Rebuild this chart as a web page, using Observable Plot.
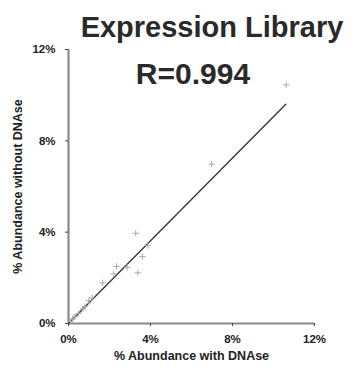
<!DOCTYPE html>
<html>
<head>
<meta charset="utf-8">
<script src="https://cdn.jsdelivr.net/npm/d3@7"></script>
<script src="https://cdn.jsdelivr.net/npm/@observablehq/plot@0.6"></script>
<style>
  html, body { margin: 0; padding: 0; background: #fff; }
  #wrap { position: relative; width: 354px; height: 370px; font-family: "Liberation Sans", Arial, sans-serif; }
  .ttl { position: absolute; font-weight: bold; color: #2a2a2a; white-space: nowrap; transform: translateX(-50%); line-height: 1; }
</style>
</head>
<body>
<div id="wrap">
  <div class="ttl" id="t1" style="left:212px; top:13px; font-size:29px;">Expression Library</div>
  <div class="ttl" id="t2" style="left:193px; top:59px; font-size:30px;">R=0.994</div>
</div>
<script>
const withDNAse    = [0.1, 0.2, 0.3, 0.5, 0.7, 0.8, 0.99, 1.16, 1.67, 2.21, 2.34, 2.86, 3.28, 3.38, 3.61, 3.87, 6.98, 10.62];
const withoutDNAse = [0.1, 0.2, 0.3, 0.45, 0.65, 0.75, 1.0, 1.12, 1.78, 2.17, 2.5, 2.46, 3.95, 2.22, 2.93, 3.41, 6.98, 10.45];
const fitX = [0, 10.6];
const fitY = [0, 9.6];
const tickValues = [0, 4, 8, 12];
const xLabel = "% Abundance with DNAse";
const yLabel = "% Abundance without DNAse";

const points = withDNAse.map((x, i) => ({x, y: withoutDNAse[i]}));
const fit = fitX.map((x, i) => ({x, y: fitY[i]}));
const axisGray = "#8a8a8a";

const chart = Plot.plot({
  width: 354,
  height: 370,
  marginLeft: 68,
  marginRight: 40,
  marginTop: 49,
  marginBottom: 47,
  style: {fontFamily: "'Liberation Sans', Arial, sans-serif", background: "transparent"},
  x: {domain: [0, 12]},
  y: {domain: [0, 12]},
  marks: [
    Plot.ruleY([0], {stroke: axisGray, strokeWidth: 2.2}),
    Plot.ruleX([0], {stroke: axisGray, strokeWidth: 2.2}),
    Plot.axisX({ticks: tickValues, tickFormat: d => d + "%", tickSize: 3, tickPadding: 8, stroke: "#444", fontSize: 11.5, fontWeight: "bold", fill: "#222", label: null}),
    Plot.axisY({ticks: tickValues, tickFormat: d => d + "%", tickSize: 3, tickPadding: 10, stroke: "#444", fontSize: 11.5, fontWeight: "bold", fill: "#222", label: null}),
    Plot.line(fit, {x: "x", y: "y", stroke: "#333", strokeWidth: 1.3}),
    Plot.dot(points, {x: "x", y: "y", symbol: "plus", r: 2.2, stroke: "#aaa", strokeWidth: 1}),
    Plot.text([xLabel], {frameAnchor: "bottom", dy: 36, text: d => d, fontSize: 12.5, fontWeight: "bold", fill: "#222"}),
    Plot.text([yLabel], {frameAnchor: "left", textAnchor: "middle", dx: -51, rotate: -90, text: d => d, fontSize: 12.5, fontWeight: "bold", fill: "#222"})
  ]
});
chart.style.position = "absolute";
chart.style.left = "0";
chart.style.top = "0";
document.getElementById("wrap").prepend(chart);
</script>
</body>
</html>
